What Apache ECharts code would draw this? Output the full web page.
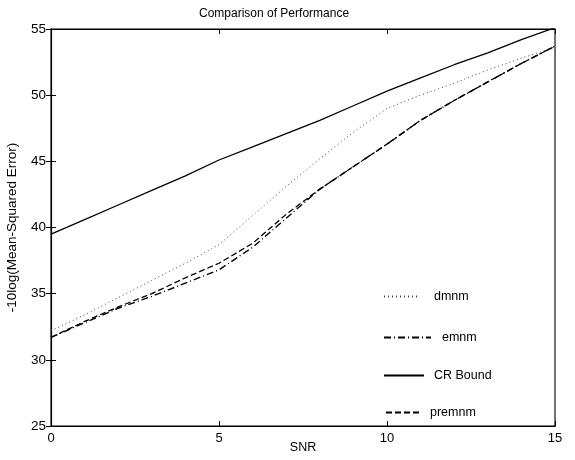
<!DOCTYPE html>
<html>
<head>
<meta charset="utf-8">
<script src="https://cdn.jsdelivr.net/npm/echarts@6/dist/echarts.min.js"></script>
<style>html,body{margin:0;padding:0;background:#fff}#c{width:575px;height:460px}</style>
</head>
<body>
<div id="c"></div>
<script>
const snr = [0,1,2,3,4,5,6,7,8,9,10,11,12,13,14,15];
const dmnm    = [32.2,33.4,34.7,36.0,37.3,38.7,40.9,43.1,45.2,47.2,49.0,50.0,50.9,51.9,52.8,53.6];
const emnm    = [31.7,32.8,33.9,34.8,35.8,36.8,38.5,40.7,42.9,44.6,46.3,48.1,49.6,51.0,52.4,53.7];
const crBound = [39.5,40.6,41.7,42.8,43.9,45.1,46.1,47.1,48.1,49.2,50.3,51.3,52.3,53.2,54.2,55.1];
const premnm  = [31.7,32.9,34.0,35.0,36.2,37.3,38.8,41.0,42.9,44.6,46.3,48.1,49.6,51.0,52.4,53.7];
const xTicks = [0,5,10,15];
const yTicks = [25,30,35,40,45,50,55];

const pairs = arr => snr.map((s,i)=>[s,arr[i]]);
const font = 'Liberation Sans, Arial, sans-serif';
const chart = echarts.init(document.getElementById('c'));

const baseAxis = {
  axisLine:{show:true,lineStyle:{color:'#000',width:1.1}},
  axisTick:{show:true,inside:true,length:5,lineStyle:{color:'#000'}},
  splitLine:{show:false}
};
function legendAt(name,left,top,w,gap){
  return {data:[name],left:left,top:top,itemWidth:w,itemHeight:10,itemGap:0,
    itemStyle:{opacity:0},
    textStyle:{fontFamily:font,fontSize:12.5,color:'#000',padding:[0,0,0,gap-5]},
    selectedMode:false, padding:0};
}
chart.setOption({
  animation:false,
  backgroundColor:'#fff',
  title:{text:'Comparison of Performance',left:194,top:3,
    textStyle:{fontFamily:font,fontSize:12,fontWeight:'normal',color:'#000'}},
  grid:{left:51,right:20,top:29,bottom:34,show:true,borderColor:'#000',borderWidth:1.1,
    containLabel:false,outerBoundsMode:'none'},
  legend:[
    legendAt('dmnm',383,290,34,16),
    legendAt('emnm',383,331,47,11),
    legendAt('CR Bound',383,369,40,10),
    legendAt('premnm',385,406,35,9)
  ],
  xAxis:[
    Object.assign({type:'value',min:0,max:15,interval:5,position:'bottom',
      name:'SNR',nameLocation:'middle',nameGap:15,nameMoveOverlap:false,
      nameTextStyle:{fontFamily:font,fontSize:12.5,color:'#000'},
      axisLabel:{fontFamily:font,fontSize:13,color:'#000',margin:6}},baseAxis),
    Object.assign({type:'value',min:0,max:15,interval:5,position:'top',
      axisLabel:{show:false}},baseAxis)
  ],
  yAxis:[
    Object.assign({type:'value',min:25,max:55,interval:5,position:'left',
      name:'-10log(Mean-Squared Error)',nameLocation:'middle',nameGap:32,nameMoveOverlap:false,
      nameTextStyle:{fontFamily:font,fontSize:13.5,color:'#000'},
      axisLabel:{fontFamily:font,fontSize:13.5,color:'#000',margin:5}},baseAxis),
    Object.assign({type:'value',min:25,max:55,interval:5,position:'right',
      axisLabel:{show:false}},baseAxis)
  ],
  series:[
    {name:'dmnm',type:'line',data:pairs(dmnm),symbol:'none',
      lineStyle:{color:'#444',width:1,type:[1,3]},itemStyle:{color:'#444'}},
    {name:'emnm',type:'line',data:pairs(emnm),symbol:'none',
      lineStyle:{color:'#000',width:1.4,type:[7,3,1,3]},itemStyle:{color:'#000'}},
    {name:'CR Bound',type:'line',data:pairs(crBound),symbol:'none',
      lineStyle:{color:'#000',width:1.3,type:'solid'},itemStyle:{color:'#000'}},
    {name:'premnm',type:'line',data:pairs(premnm),symbol:'none',
      lineStyle:{color:'#000',width:1.3,type:[6,3]},itemStyle:{color:'#000'}}
  ]
});
</script>
</body>
</html>
